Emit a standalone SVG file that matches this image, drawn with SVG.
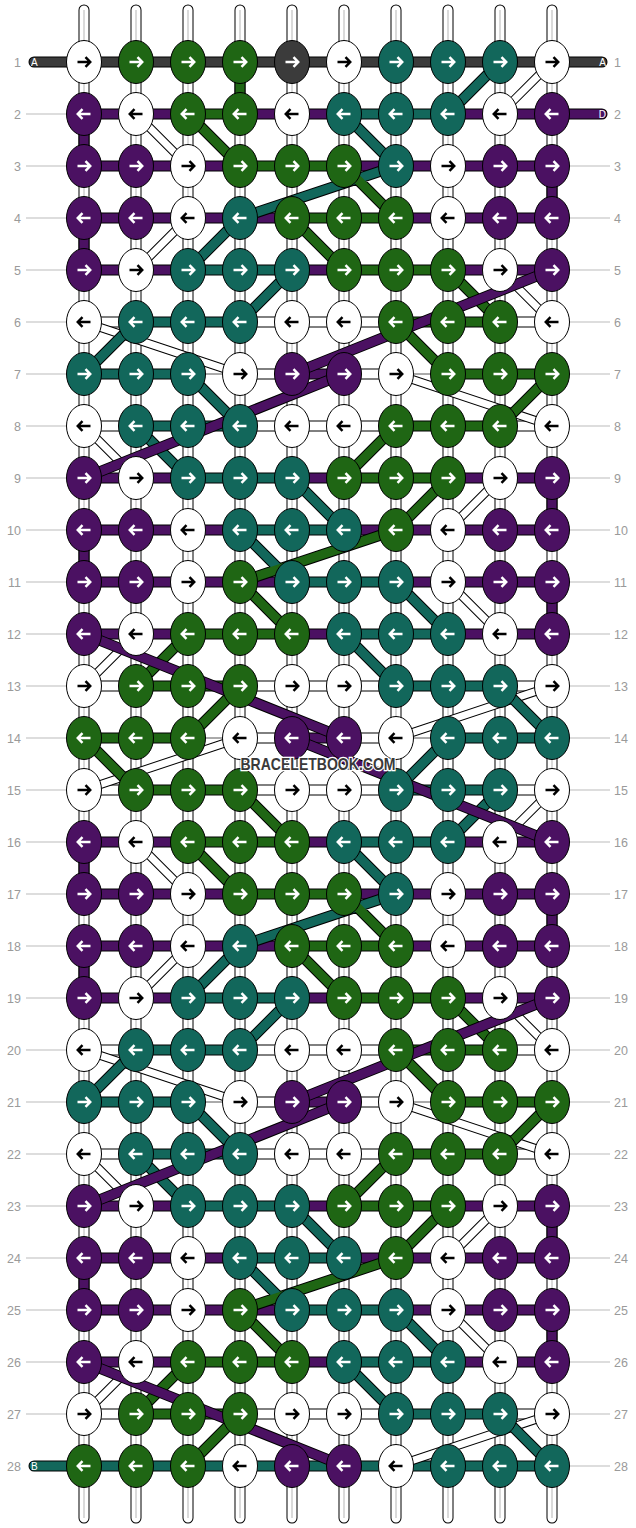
<svg xmlns="http://www.w3.org/2000/svg" xmlns:xlink="http://www.w3.org/1999/xlink" width="636" height="1528" viewBox="0 0 636 1528">
<style>
.ro{stroke:#000;stroke-width:11;stroke-linecap:round;fill:none}
.rw{stroke:#fff;stroke-width:9;stroke-linecap:round;fill:none}
.rc{stroke:#b5b5b5;stroke-width:1;fill:none}
.o{stroke:#000;stroke-width:11;stroke-linecap:round;fill:none}
.ow{stroke:#000;stroke-width:9;stroke-linecap:round;fill:none}
.w{stroke:#fff;stroke-width:7;stroke-linecap:round;fill:none}
.hw{stroke:#fff;stroke-width:9;stroke-linecap:round;fill:none}
.g{stroke:#1f6614;stroke-width:9;stroke-linecap:round;fill:none}
.t{stroke:#12675b;stroke-width:9;stroke-linecap:round;fill:none}
.p{stroke:#4b1162;stroke-width:9;stroke-linecap:round;fill:none}
.d{stroke:#3b3b3b;stroke-width:9;stroke-linecap:round;fill:none}
.thin{stroke:#555;stroke-width:1;fill:none}
.ll{stroke:#bbb;stroke-width:1;fill:none}
.kW{fill:#fff;stroke:#000;stroke-width:1}
.kG{fill:#1f6614;stroke:#000;stroke-width:1}
.kT{fill:#12675b;stroke:#000;stroke-width:1}
.kP{fill:#4b1162;stroke:#000;stroke-width:1}
.kD{fill:#3b3b3b;stroke:#000;stroke-width:1}
.aw{stroke:#fff;stroke-width:2.5;fill:none}
.ab{stroke:#000;stroke-width:2.5;fill:none}
.lab{font-family:"Liberation Sans",Arial,sans-serif;font-size:12.5px;fill:#9a9a9a}
.sl{font-family:"Liberation Sans",Arial,sans-serif;font-size:10px;fill:#fff}
.wm{font-family:"Liberation Sans",Arial,sans-serif;font-weight:bold;font-size:17px;fill:#3a3a3a;stroke:#fff;stroke-width:2.5;paint-order:stroke}
</style>
<defs>
<path id="arR" d="M-6.5 0H6M1.5-4.8L6.2 0L1.5 4.8"/>
<path id="arL" d="M6.5 0H-6M-1.5-4.8L-6.2 0L-1.5 4.8"/>
<g id="WR"><ellipse rx="17.5" ry="21.5" class="kW"/><use href="#arR" class="ab"/></g>
<g id="WL"><ellipse rx="17.5" ry="21.5" class="kW"/><use href="#arL" class="ab"/></g>
<g id="GR"><ellipse rx="17.5" ry="21.5" class="kG"/><use href="#arR" class="aw"/></g>
<g id="GL"><ellipse rx="17.5" ry="21.5" class="kG"/><use href="#arL" class="aw"/></g>
<g id="TR"><ellipse rx="17.5" ry="21.5" class="kT"/><use href="#arR" class="aw"/></g>
<g id="TL"><ellipse rx="17.5" ry="21.5" class="kT"/><use href="#arL" class="aw"/></g>
<g id="PR"><ellipse rx="17.5" ry="21.5" class="kP"/><use href="#arR" class="aw"/></g>
<g id="PL"><ellipse rx="17.5" ry="21.5" class="kP"/><use href="#arL" class="aw"/></g>
<g id="DR"><ellipse rx="17.5" ry="21.5" class="kD"/><use href="#arR" class="aw"/></g>
</defs>
<rect width="636" height="1528" fill="#fff"/>
<g id="rods">
<path class="ro" d="M84 10V1518M136 10V1518M188 10V1518M240 10V1518M292 10V1518M344 10V1518M396 10V1518M448 10V1518M500 10V1518M552 10V1518"/>
<path class="rw" d="M84 10V1518M136 10V1518M188 10V1518M240 10V1518M292 10V1518M344 10V1518M396 10V1518M448 10V1518M500 10V1518M552 10V1518"/>
<path class="rc" d="M84 10V1518M136 10V1518M188 10V1518M240 10V1518M292 10V1518M344 10V1518M396 10V1518M448 10V1518M500 10V1518M552 10V1518"/>
</g>
<g id="labels">
<path class="ll" d="M26 114H66M26 166H66M26 218H66M26 270H66M26 322H66M26 374H66M26 426H66M26 478H66M26 530H66M26 582H66M26 634H66M26 686H66M26 738H66M26 790H66M26 842H66M26 894H66M26 946H66M26 998H66M26 1050H66M26 1102H66M26 1154H66M26 1206H66M26 1258H66M26 1310H66M26 1362H66M26 1414H66"/>
<path class="ll" d="M570 166H610M570 218H610M570 270H610M570 322H610M570 374H610M570 426H610M570 478H610M570 530H610M570 582H610M570 634H610M570 686H610M570 738H610M570 790H610M570 842H610M570 894H610M570 946H610M570 998H610M570 1050H610M570 1102H610M570 1154H610M570 1206H610M570 1258H610M570 1310H610M570 1362H610M570 1414H610M570 1466H610"/>
<g class="lab" text-anchor="end">
<text x="21" y="66.5">1</text><text x="21" y="118.5">2</text><text x="21" y="170.5">3</text><text x="21" y="222.5">4</text><text x="21" y="274.5">5</text><text x="21" y="326.5">6</text><text x="21" y="378.5">7</text><text x="21" y="430.5">8</text><text x="21" y="482.5">9</text><text x="21" y="534.5">10</text><text x="21" y="586.5">11</text><text x="21" y="638.5">12</text><text x="21" y="690.5">13</text><text x="21" y="742.5">14</text><text x="21" y="794.5">15</text><text x="21" y="846.5">16</text><text x="21" y="898.5">17</text><text x="21" y="950.5">18</text><text x="21" y="1002.5">19</text><text x="21" y="1054.5">20</text><text x="21" y="1106.5">21</text><text x="21" y="1158.5">22</text><text x="21" y="1210.5">23</text><text x="21" y="1262.5">24</text><text x="21" y="1314.5">25</text><text x="21" y="1366.5">26</text><text x="21" y="1418.5">27</text><text x="21" y="1470.5">28</text>
</g>
<g class="lab">
<text x="614" y="66.5">1</text><text x="614" y="118.5">2</text><text x="614" y="170.5">3</text><text x="614" y="222.5">4</text><text x="614" y="274.5">5</text><text x="614" y="326.5">6</text><text x="614" y="378.5">7</text><text x="614" y="430.5">8</text><text x="614" y="482.5">9</text><text x="614" y="534.5">10</text><text x="614" y="586.5">11</text><text x="614" y="638.5">12</text><text x="614" y="690.5">13</text><text x="614" y="742.5">14</text><text x="614" y="794.5">15</text><text x="614" y="846.5">16</text><text x="614" y="898.5">17</text><text x="614" y="950.5">18</text><text x="614" y="1002.5">19</text><text x="614" y="1054.5">20</text><text x="614" y="1106.5">21</text><text x="614" y="1158.5">22</text><text x="614" y="1210.5">23</text><text x="614" y="1262.5">24</text><text x="614" y="1314.5">25</text><text x="614" y="1366.5">26</text><text x="614" y="1418.5">27</text><text x="614" y="1470.5">28</text>
</g>
</g>
<g id="connectors">
<path class="o" d="M34 62H602M84 114H602M84 166H552M84 218H552M84 270H552M84 322H552M84 374H188M240 374H396M448 374H552M84 426H552M84 478H552M84 530H552M84 582H552M84 634H552M84 686H552M84 738H188M240 738H396M448 738H552M84 790H552M84 842H552M84 894H552M84 946H552M84 998H552M84 1050H552M84 1102H188M240 1102H396M448 1102H552M84 1154H552M84 1206H552M84 1258H552M84 1310H552M84 1362H552M84 1414H552M34 1466H552"/>
<path class="thin" d="M188 374H240M396 374H448M188 738H240M396 738H448M188 1102H240M396 1102H448"/>
<path class="d" d="M34 62H602"/>
<path class="p" d="M84 114H188M240 114H344M448 114H602M84 166H240M344 166H552M84 218H292M396 218H552M84 270H188M292 270H344M448 270H552M292 374H344M84 478H188M292 478H344M448 478H552M84 530H240M344 530H552M84 582H292M396 582H552M84 634H188M292 634H344M448 634H552M292 738H344M84 842H188M292 842H344M448 842H552M84 894H240M344 894H552M84 946H292M396 946H552M84 998H188M292 998H344M448 998H552M292 1102H344M84 1206H188M292 1206H344M448 1206H552M84 1258H240M344 1258H552M84 1310H292M396 1310H552M84 1362H188M292 1362H344M448 1362H552"/>
<path class="g" d="M188 114H240M240 166H344M292 218H396M344 270H448M396 322H500M448 374H552M396 426H500M344 478H448M188 634H292M136 686H240M84 738H188M136 790H240M188 842H292M240 894H344M292 946H396M344 998H448M396 1050H500M448 1102H552M396 1154H500M344 1206H448M188 1362H292M136 1414H240"/>
<path class="t" d="M344 114H448M188 270H292M136 322H240M84 374H188M136 426H240M188 478H292M240 530H344M292 582H396M344 634H448M396 686H500M448 738H552M396 790H500M344 842H448M188 998H292M136 1050H240M84 1102H188M136 1154H240M188 1206H292M240 1258H344M292 1310H396M344 1362H448M396 1414H500M34 1466H552"/>
<path class="hw" d="M84 322H136M240 322H396M500 322H552M240 374H292M344 374H396M84 426H136M240 426H396M500 426H552M84 686H136M240 686H396M500 686H552M240 738H292M344 738H396M84 790H136M240 790H396M500 790H552M84 1050H136M240 1050H396M500 1050H552M240 1102H292M344 1102H396M84 1154H136M240 1154H396M500 1154H552M84 1414H136M240 1414H396M500 1414H552"/>
<path class="o" d="M240 62V114M84 114V166M552 166V218M84 218V270M552 478V530M84 530V582M552 582V634M84 842V894M552 894V946M84 946V998M552 1206V1258M84 1258V1310M552 1310V1362"/>
<path class="g" d="M240 62V114"/>
<path class="p" d="M84 114V166M552 166V218M84 218V270M552 478V530M84 530V582M552 582V634M84 842V894M552 894V946M84 946V998M552 1206V1258M84 1258V1310M552 1310V1362"/>
<path class="ow" d="M552 62L500 114M136 114L188 166M188 218L136 270M500 270L552 322M84 322L240 374M396 374L552 426M84 426L136 478M500 478L448 530M448 582L500 634M136 634L84 686M552 686L396 738M240 738L84 790M552 790L500 842M136 842L188 894M188 946L136 998M500 998L552 1050M84 1050L240 1102M396 1102L552 1154M84 1154L136 1206M500 1206L448 1258M448 1310L500 1362M136 1362L84 1414M552 1414L396 1466"/>
<path class="w" d="M552 62L500 114M136 114L188 166M188 218L136 270M500 270L552 322M84 322L240 374M396 374L552 426M84 426L136 478M500 478L448 530M448 582L500 634M136 634L84 686M552 686L396 738M240 738L84 790M552 790L500 842M136 842L188 894M188 946L136 998M500 998L552 1050M84 1050L240 1102M396 1102L552 1154M84 1154L136 1206M500 1206L448 1258M448 1310L500 1362M136 1362L84 1414M552 1414L396 1466"/>
<path class="o" d="M500 62L448 114M344 114L396 166M396 166L240 218M240 218L188 270M292 270L240 322M136 322L84 374M188 374L240 426M136 426L188 478M292 478L344 530M240 530L292 582M396 582L448 634M344 634L396 686M500 686L552 738M448 738L396 790M500 790L448 842M344 842L396 894M396 894L240 946M240 946L188 998M292 998L240 1050M136 1050L84 1102M188 1102L240 1154M136 1154L188 1206M292 1206L344 1258M240 1258L292 1310M396 1310L448 1362M344 1362L396 1414M500 1414L552 1466M188 114L240 166M344 166L396 218M292 218L344 270M448 270L500 322M396 322L448 374M552 374L500 426M396 426L344 478M448 478L396 530M396 530L240 582M240 582L292 634M188 634L136 686M240 686L188 738M84 738L136 790M240 790L292 842M188 842L240 894M344 894L396 946M292 946L344 998M448 998L500 1050M396 1050L448 1102M552 1102L500 1154M396 1154L344 1206M448 1206L396 1258M396 1258L240 1310M240 1310L292 1362M188 1362L136 1414M240 1414L188 1466"/>
<path class="t" d="M500 62L448 114M344 114L396 166M396 166L240 218M240 218L188 270M292 270L240 322M136 322L84 374M188 374L240 426M136 426L188 478M292 478L344 530M240 530L292 582M396 582L448 634M344 634L396 686M500 686L552 738M448 738L396 790M500 790L448 842M344 842L396 894M396 894L240 946M240 946L188 998M292 998L240 1050M136 1050L84 1102M188 1102L240 1154M136 1154L188 1206M292 1206L344 1258M240 1258L292 1310M396 1310L448 1362M344 1362L396 1414M500 1414L552 1466"/>
<path class="g" d="M188 114L240 166M344 166L396 218M292 218L344 270M448 270L500 322M396 322L448 374M552 374L500 426M396 426L344 478M448 478L396 530M396 530L240 582M240 582L292 634M188 634L136 686M240 686L188 738M84 738L136 790M240 790L292 842M188 842L240 894M344 894L396 946M292 946L344 998M448 998L500 1050M396 1050L448 1102M552 1102L500 1154M396 1154L344 1206M448 1206L396 1258M396 1258L240 1310M240 1310L292 1362M188 1362L136 1414M240 1414L188 1466"/>
<path class="o" d="M552 270L292 374M344 374L84 478M84 634L344 738M292 738L552 842M552 998L292 1102M344 1102L84 1206M84 1362L344 1466"/>
<path class="p" d="M552 270L292 374M344 374L84 478M84 634L344 738M292 738L552 842M552 998L292 1102M344 1102L84 1206M84 1362L344 1466"/>
</g>
<g id="ends">
<text class="sl" x="31" y="65.5">A</text>
<text class="sl" x="606" y="65.5" text-anchor="end">A</text>
<text class="sl" x="606" y="117.5" text-anchor="end">D</text>
<text class="sl" x="31" y="1469.5">B</text>
</g>
<g id="knots">
<g id="k1-1"><use href="#WR" x="84" y="62"/></g><g id="k1-2"><use href="#GR" x="136" y="62"/></g><g id="k1-3"><use href="#GR" x="188" y="62"/></g><g id="k1-4"><use href="#GR" x="240" y="62"/></g><g id="k1-5"><use href="#DR" x="292" y="62"/></g><g id="k1-6"><use href="#WR" x="344" y="62"/></g><g id="k1-7"><use href="#TR" x="396" y="62"/></g><g id="k1-8"><use href="#TR" x="448" y="62"/></g><g id="k1-9"><use href="#TR" x="500" y="62"/></g><g id="k1-10"><use href="#WR" x="552" y="62"/></g>
<g id="k2-1"><use href="#PL" x="84" y="114"/></g><g id="k2-2"><use href="#WL" x="136" y="114"/></g><g id="k2-3"><use href="#GL" x="188" y="114"/></g><g id="k2-4"><use href="#GL" x="240" y="114"/></g><g id="k2-5"><use href="#WL" x="292" y="114"/></g><g id="k2-6"><use href="#TL" x="344" y="114"/></g><g id="k2-7"><use href="#TL" x="396" y="114"/></g><g id="k2-8"><use href="#TL" x="448" y="114"/></g><g id="k2-9"><use href="#WL" x="500" y="114"/></g><g id="k2-10"><use href="#PL" x="552" y="114"/></g>
<g id="k3-1"><use href="#PR" x="84" y="166"/></g><g id="k3-2"><use href="#PR" x="136" y="166"/></g><g id="k3-3"><use href="#WR" x="188" y="166"/></g><g id="k3-4"><use href="#GR" x="240" y="166"/></g><g id="k3-5"><use href="#GR" x="292" y="166"/></g><g id="k3-6"><use href="#GR" x="344" y="166"/></g><g id="k3-7"><use href="#TR" x="396" y="166"/></g><g id="k3-8"><use href="#WR" x="448" y="166"/></g><g id="k3-9"><use href="#PR" x="500" y="166"/></g><g id="k3-10"><use href="#PR" x="552" y="166"/></g>
<g id="k4-1"><use href="#PL" x="84" y="218"/></g><g id="k4-2"><use href="#PL" x="136" y="218"/></g><g id="k4-3"><use href="#WL" x="188" y="218"/></g><g id="k4-4"><use href="#TL" x="240" y="218"/></g><g id="k4-5"><use href="#GL" x="292" y="218"/></g><g id="k4-6"><use href="#GL" x="344" y="218"/></g><g id="k4-7"><use href="#GL" x="396" y="218"/></g><g id="k4-8"><use href="#WL" x="448" y="218"/></g><g id="k4-9"><use href="#PL" x="500" y="218"/></g><g id="k4-10"><use href="#PL" x="552" y="218"/></g>
<g id="k5-1"><use href="#PR" x="84" y="270"/></g><g id="k5-2"><use href="#WR" x="136" y="270"/></g><g id="k5-3"><use href="#TR" x="188" y="270"/></g><g id="k5-4"><use href="#TR" x="240" y="270"/></g><g id="k5-5"><use href="#TR" x="292" y="270"/></g><g id="k5-6"><use href="#GR" x="344" y="270"/></g><g id="k5-7"><use href="#GR" x="396" y="270"/></g><g id="k5-8"><use href="#GR" x="448" y="270"/></g><g id="k5-9"><use href="#WR" x="500" y="270"/></g><g id="k5-10"><use href="#PR" x="552" y="270"/></g>
<g id="k6-1"><use href="#WL" x="84" y="322"/></g><g id="k6-2"><use href="#TL" x="136" y="322"/></g><g id="k6-3"><use href="#TL" x="188" y="322"/></g><g id="k6-4"><use href="#TL" x="240" y="322"/></g><g id="k6-5"><use href="#WL" x="292" y="322"/></g><g id="k6-6"><use href="#WL" x="344" y="322"/></g><g id="k6-7"><use href="#GL" x="396" y="322"/></g><g id="k6-8"><use href="#GL" x="448" y="322"/></g><g id="k6-9"><use href="#GL" x="500" y="322"/></g><g id="k6-10"><use href="#WL" x="552" y="322"/></g>
<g id="k7-1"><use href="#TR" x="84" y="374"/></g><g id="k7-2"><use href="#TR" x="136" y="374"/></g><g id="k7-3"><use href="#TR" x="188" y="374"/></g><g id="k7-4"><use href="#WR" x="240" y="374"/></g><g id="k7-5"><use href="#PR" x="292" y="374"/></g><g id="k7-6"><use href="#PR" x="344" y="374"/></g><g id="k7-7"><use href="#WR" x="396" y="374"/></g><g id="k7-8"><use href="#GR" x="448" y="374"/></g><g id="k7-9"><use href="#GR" x="500" y="374"/></g><g id="k7-10"><use href="#GR" x="552" y="374"/></g>
<g id="k8-1"><use href="#WL" x="84" y="426"/></g><g id="k8-2"><use href="#TL" x="136" y="426"/></g><g id="k8-3"><use href="#TL" x="188" y="426"/></g><g id="k8-4"><use href="#TL" x="240" y="426"/></g><g id="k8-5"><use href="#WL" x="292" y="426"/></g><g id="k8-6"><use href="#WL" x="344" y="426"/></g><g id="k8-7"><use href="#GL" x="396" y="426"/></g><g id="k8-8"><use href="#GL" x="448" y="426"/></g><g id="k8-9"><use href="#GL" x="500" y="426"/></g><g id="k8-10"><use href="#WL" x="552" y="426"/></g>
<g id="k9-1"><use href="#PR" x="84" y="478"/></g><g id="k9-2"><use href="#WR" x="136" y="478"/></g><g id="k9-3"><use href="#TR" x="188" y="478"/></g><g id="k9-4"><use href="#TR" x="240" y="478"/></g><g id="k9-5"><use href="#TR" x="292" y="478"/></g><g id="k9-6"><use href="#GR" x="344" y="478"/></g><g id="k9-7"><use href="#GR" x="396" y="478"/></g><g id="k9-8"><use href="#GR" x="448" y="478"/></g><g id="k9-9"><use href="#WR" x="500" y="478"/></g><g id="k9-10"><use href="#PR" x="552" y="478"/></g>
<g id="k10-1"><use href="#PL" x="84" y="530"/></g><g id="k10-2"><use href="#PL" x="136" y="530"/></g><g id="k10-3"><use href="#WL" x="188" y="530"/></g><g id="k10-4"><use href="#TL" x="240" y="530"/></g><g id="k10-5"><use href="#TL" x="292" y="530"/></g><g id="k10-6"><use href="#TL" x="344" y="530"/></g><g id="k10-7"><use href="#GL" x="396" y="530"/></g><g id="k10-8"><use href="#WL" x="448" y="530"/></g><g id="k10-9"><use href="#PL" x="500" y="530"/></g><g id="k10-10"><use href="#PL" x="552" y="530"/></g>
<g id="k11-1"><use href="#PR" x="84" y="582"/></g><g id="k11-2"><use href="#PR" x="136" y="582"/></g><g id="k11-3"><use href="#WR" x="188" y="582"/></g><g id="k11-4"><use href="#GR" x="240" y="582"/></g><g id="k11-5"><use href="#TR" x="292" y="582"/></g><g id="k11-6"><use href="#TR" x="344" y="582"/></g><g id="k11-7"><use href="#TR" x="396" y="582"/></g><g id="k11-8"><use href="#WR" x="448" y="582"/></g><g id="k11-9"><use href="#PR" x="500" y="582"/></g><g id="k11-10"><use href="#PR" x="552" y="582"/></g>
<g id="k12-1"><use href="#PL" x="84" y="634"/></g><g id="k12-2"><use href="#WL" x="136" y="634"/></g><g id="k12-3"><use href="#GL" x="188" y="634"/></g><g id="k12-4"><use href="#GL" x="240" y="634"/></g><g id="k12-5"><use href="#GL" x="292" y="634"/></g><g id="k12-6"><use href="#TL" x="344" y="634"/></g><g id="k12-7"><use href="#TL" x="396" y="634"/></g><g id="k12-8"><use href="#TL" x="448" y="634"/></g><g id="k12-9"><use href="#WL" x="500" y="634"/></g><g id="k12-10"><use href="#PL" x="552" y="634"/></g>
<g id="k13-1"><use href="#WR" x="84" y="686"/></g><g id="k13-2"><use href="#GR" x="136" y="686"/></g><g id="k13-3"><use href="#GR" x="188" y="686"/></g><g id="k13-4"><use href="#GR" x="240" y="686"/></g><g id="k13-5"><use href="#WR" x="292" y="686"/></g><g id="k13-6"><use href="#WR" x="344" y="686"/></g><g id="k13-7"><use href="#TR" x="396" y="686"/></g><g id="k13-8"><use href="#TR" x="448" y="686"/></g><g id="k13-9"><use href="#TR" x="500" y="686"/></g><g id="k13-10"><use href="#WR" x="552" y="686"/></g>
<g id="k14-1"><use href="#GL" x="84" y="738"/></g><g id="k14-2"><use href="#GL" x="136" y="738"/></g><g id="k14-3"><use href="#GL" x="188" y="738"/></g><g id="k14-4"><use href="#WL" x="240" y="738"/></g><g id="k14-5"><use href="#PL" x="292" y="738"/></g><g id="k14-6"><use href="#PL" x="344" y="738"/></g><g id="k14-7"><use href="#WL" x="396" y="738"/></g><g id="k14-8"><use href="#TL" x="448" y="738"/></g><g id="k14-9"><use href="#TL" x="500" y="738"/></g><g id="k14-10"><use href="#TL" x="552" y="738"/></g>
<g id="k15-1"><use href="#WR" x="84" y="790"/></g><g id="k15-2"><use href="#GR" x="136" y="790"/></g><g id="k15-3"><use href="#GR" x="188" y="790"/></g><g id="k15-4"><use href="#GR" x="240" y="790"/></g><g id="k15-5"><use href="#WR" x="292" y="790"/></g><g id="k15-6"><use href="#WR" x="344" y="790"/></g><g id="k15-7"><use href="#TR" x="396" y="790"/></g><g id="k15-8"><use href="#TR" x="448" y="790"/></g><g id="k15-9"><use href="#TR" x="500" y="790"/></g><g id="k15-10"><use href="#WR" x="552" y="790"/></g>
<g id="k16-1"><use href="#PL" x="84" y="842"/></g><g id="k16-2"><use href="#WL" x="136" y="842"/></g><g id="k16-3"><use href="#GL" x="188" y="842"/></g><g id="k16-4"><use href="#GL" x="240" y="842"/></g><g id="k16-5"><use href="#GL" x="292" y="842"/></g><g id="k16-6"><use href="#TL" x="344" y="842"/></g><g id="k16-7"><use href="#TL" x="396" y="842"/></g><g id="k16-8"><use href="#TL" x="448" y="842"/></g><g id="k16-9"><use href="#WL" x="500" y="842"/></g><g id="k16-10"><use href="#PL" x="552" y="842"/></g>
<g id="k17-1"><use href="#PR" x="84" y="894"/></g><g id="k17-2"><use href="#PR" x="136" y="894"/></g><g id="k17-3"><use href="#WR" x="188" y="894"/></g><g id="k17-4"><use href="#GR" x="240" y="894"/></g><g id="k17-5"><use href="#GR" x="292" y="894"/></g><g id="k17-6"><use href="#GR" x="344" y="894"/></g><g id="k17-7"><use href="#TR" x="396" y="894"/></g><g id="k17-8"><use href="#WR" x="448" y="894"/></g><g id="k17-9"><use href="#PR" x="500" y="894"/></g><g id="k17-10"><use href="#PR" x="552" y="894"/></g>
<g id="k18-1"><use href="#PL" x="84" y="946"/></g><g id="k18-2"><use href="#PL" x="136" y="946"/></g><g id="k18-3"><use href="#WL" x="188" y="946"/></g><g id="k18-4"><use href="#TL" x="240" y="946"/></g><g id="k18-5"><use href="#GL" x="292" y="946"/></g><g id="k18-6"><use href="#GL" x="344" y="946"/></g><g id="k18-7"><use href="#GL" x="396" y="946"/></g><g id="k18-8"><use href="#WL" x="448" y="946"/></g><g id="k18-9"><use href="#PL" x="500" y="946"/></g><g id="k18-10"><use href="#PL" x="552" y="946"/></g>
<g id="k19-1"><use href="#PR" x="84" y="998"/></g><g id="k19-2"><use href="#WR" x="136" y="998"/></g><g id="k19-3"><use href="#TR" x="188" y="998"/></g><g id="k19-4"><use href="#TR" x="240" y="998"/></g><g id="k19-5"><use href="#TR" x="292" y="998"/></g><g id="k19-6"><use href="#GR" x="344" y="998"/></g><g id="k19-7"><use href="#GR" x="396" y="998"/></g><g id="k19-8"><use href="#GR" x="448" y="998"/></g><g id="k19-9"><use href="#WR" x="500" y="998"/></g><g id="k19-10"><use href="#PR" x="552" y="998"/></g>
<g id="k20-1"><use href="#WL" x="84" y="1050"/></g><g id="k20-2"><use href="#TL" x="136" y="1050"/></g><g id="k20-3"><use href="#TL" x="188" y="1050"/></g><g id="k20-4"><use href="#TL" x="240" y="1050"/></g><g id="k20-5"><use href="#WL" x="292" y="1050"/></g><g id="k20-6"><use href="#WL" x="344" y="1050"/></g><g id="k20-7"><use href="#GL" x="396" y="1050"/></g><g id="k20-8"><use href="#GL" x="448" y="1050"/></g><g id="k20-9"><use href="#GL" x="500" y="1050"/></g><g id="k20-10"><use href="#WL" x="552" y="1050"/></g>
<g id="k21-1"><use href="#TR" x="84" y="1102"/></g><g id="k21-2"><use href="#TR" x="136" y="1102"/></g><g id="k21-3"><use href="#TR" x="188" y="1102"/></g><g id="k21-4"><use href="#WR" x="240" y="1102"/></g><g id="k21-5"><use href="#PR" x="292" y="1102"/></g><g id="k21-6"><use href="#PR" x="344" y="1102"/></g><g id="k21-7"><use href="#WR" x="396" y="1102"/></g><g id="k21-8"><use href="#GR" x="448" y="1102"/></g><g id="k21-9"><use href="#GR" x="500" y="1102"/></g><g id="k21-10"><use href="#GR" x="552" y="1102"/></g>
<g id="k22-1"><use href="#WL" x="84" y="1154"/></g><g id="k22-2"><use href="#TL" x="136" y="1154"/></g><g id="k22-3"><use href="#TL" x="188" y="1154"/></g><g id="k22-4"><use href="#TL" x="240" y="1154"/></g><g id="k22-5"><use href="#WL" x="292" y="1154"/></g><g id="k22-6"><use href="#WL" x="344" y="1154"/></g><g id="k22-7"><use href="#GL" x="396" y="1154"/></g><g id="k22-8"><use href="#GL" x="448" y="1154"/></g><g id="k22-9"><use href="#GL" x="500" y="1154"/></g><g id="k22-10"><use href="#WL" x="552" y="1154"/></g>
<g id="k23-1"><use href="#PR" x="84" y="1206"/></g><g id="k23-2"><use href="#WR" x="136" y="1206"/></g><g id="k23-3"><use href="#TR" x="188" y="1206"/></g><g id="k23-4"><use href="#TR" x="240" y="1206"/></g><g id="k23-5"><use href="#TR" x="292" y="1206"/></g><g id="k23-6"><use href="#GR" x="344" y="1206"/></g><g id="k23-7"><use href="#GR" x="396" y="1206"/></g><g id="k23-8"><use href="#GR" x="448" y="1206"/></g><g id="k23-9"><use href="#WR" x="500" y="1206"/></g><g id="k23-10"><use href="#PR" x="552" y="1206"/></g>
<g id="k24-1"><use href="#PL" x="84" y="1258"/></g><g id="k24-2"><use href="#PL" x="136" y="1258"/></g><g id="k24-3"><use href="#WL" x="188" y="1258"/></g><g id="k24-4"><use href="#TL" x="240" y="1258"/></g><g id="k24-5"><use href="#TL" x="292" y="1258"/></g><g id="k24-6"><use href="#TL" x="344" y="1258"/></g><g id="k24-7"><use href="#GL" x="396" y="1258"/></g><g id="k24-8"><use href="#WL" x="448" y="1258"/></g><g id="k24-9"><use href="#PL" x="500" y="1258"/></g><g id="k24-10"><use href="#PL" x="552" y="1258"/></g>
<g id="k25-1"><use href="#PR" x="84" y="1310"/></g><g id="k25-2"><use href="#PR" x="136" y="1310"/></g><g id="k25-3"><use href="#WR" x="188" y="1310"/></g><g id="k25-4"><use href="#GR" x="240" y="1310"/></g><g id="k25-5"><use href="#TR" x="292" y="1310"/></g><g id="k25-6"><use href="#TR" x="344" y="1310"/></g><g id="k25-7"><use href="#TR" x="396" y="1310"/></g><g id="k25-8"><use href="#WR" x="448" y="1310"/></g><g id="k25-9"><use href="#PR" x="500" y="1310"/></g><g id="k25-10"><use href="#PR" x="552" y="1310"/></g>
<g id="k26-1"><use href="#PL" x="84" y="1362"/></g><g id="k26-2"><use href="#WL" x="136" y="1362"/></g><g id="k26-3"><use href="#GL" x="188" y="1362"/></g><g id="k26-4"><use href="#GL" x="240" y="1362"/></g><g id="k26-5"><use href="#GL" x="292" y="1362"/></g><g id="k26-6"><use href="#TL" x="344" y="1362"/></g><g id="k26-7"><use href="#TL" x="396" y="1362"/></g><g id="k26-8"><use href="#TL" x="448" y="1362"/></g><g id="k26-9"><use href="#WL" x="500" y="1362"/></g><g id="k26-10"><use href="#PL" x="552" y="1362"/></g>
<g id="k27-1"><use href="#WR" x="84" y="1414"/></g><g id="k27-2"><use href="#GR" x="136" y="1414"/></g><g id="k27-3"><use href="#GR" x="188" y="1414"/></g><g id="k27-4"><use href="#GR" x="240" y="1414"/></g><g id="k27-5"><use href="#WR" x="292" y="1414"/></g><g id="k27-6"><use href="#WR" x="344" y="1414"/></g><g id="k27-7"><use href="#TR" x="396" y="1414"/></g><g id="k27-8"><use href="#TR" x="448" y="1414"/></g><g id="k27-9"><use href="#TR" x="500" y="1414"/></g><g id="k27-10"><use href="#WR" x="552" y="1414"/></g>
<g id="k28-1"><use href="#GL" x="84" y="1466"/></g><g id="k28-2"><use href="#GL" x="136" y="1466"/></g><g id="k28-3"><use href="#GL" x="188" y="1466"/></g><g id="k28-4"><use href="#WL" x="240" y="1466"/></g><g id="k28-5"><use href="#PL" x="292" y="1466"/></g><g id="k28-6"><use href="#PL" x="344" y="1466"/></g><g id="k28-7"><use href="#WL" x="396" y="1466"/></g><g id="k28-8"><use href="#TL" x="448" y="1466"/></g><g id="k28-9"><use href="#TL" x="500" y="1466"/></g><g id="k28-10"><use href="#TL" x="552" y="1466"/></g>
</g>
<text class="wm" x="318" y="770" text-anchor="middle" textLength="155" lengthAdjust="spacingAndGlyphs">BRACELETBOOK.COM</text>
</svg>
